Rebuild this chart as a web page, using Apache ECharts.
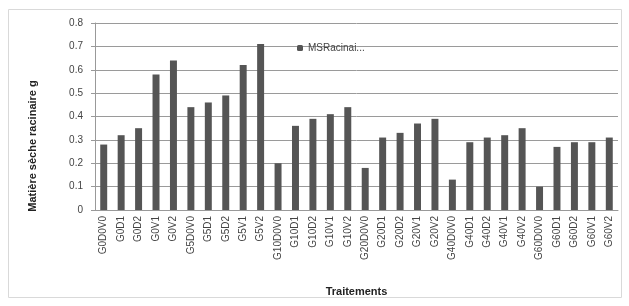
<!DOCTYPE html>
<html>
<head>
<meta charset="utf-8">
<script src="https://cdn.jsdelivr.net/npm/echarts@6/dist/echarts.min.js"></script>
<style>
html, body { margin: 0; padding: 0; background: #fff; }
#chart { width: 629px; height: 306px; }
</style>
</head>
<body>
<div id="chart"></div>
<script>
// données
var traitements = ['G0D0V0', 'G0D1', 'G0D2', 'G0V1', 'G0V2',
	'G5D0V0', 'G5D1', 'G5D2', 'G5V1', 'G5V2',
	'G10D0V0', 'G10D1', 'G10D2', 'G10V1', 'G10V2',
	'G20D0V0', 'G20D1', 'G20D2', 'G20V1', 'G20V2',
	'G40D0V0', 'G40D1', 'G40D2', 'G40V1', 'G40V2',
	'G60D0V0', 'G60D1', 'G60D2', 'G60V1', 'G60V2'];
var msRacinaire = [0.28, 0.32, 0.35, 0.58, 0.64,
	0.44, 0.46, 0.49, 0.62, 0.71,
	0.20, 0.36, 0.39, 0.41, 0.44,
	0.18, 0.31, 0.33, 0.37, 0.39,
	0.13, 0.29, 0.31, 0.32, 0.35,
	0.10, 0.27, 0.29, 0.29, 0.31];
var yTicks = [0, 0.1, 0.2, 0.3, 0.4, 0.5, 0.6, 0.7, 0.8];

var myChart = echarts.init(document.getElementById('chart'));
var option = {
	animation : false,
	textStyle : { fontFamily : 'Liberation Sans, Arial, sans-serif' },
	graphic : [ {
		type : 'rect',
		shape : { x : 8.5, y : 9.5, width : 613, height : 288 },
		style : { fill : 'none', stroke : '#d9d9d9', lineWidth : 1 }
	}, {
		// titre de l'axe Y, un peu plus bas que le centre comme sur l'original
		type : 'text',
		x : 33,
		y : 146,
		rotation : Math.PI / 2,
		style : {
			text : 'Matière sèche racinaire g',
			fill : '#222',
			font : 'bold 11px Liberation Sans, Arial, sans-serif',
			align : 'center',
			verticalAlign : 'middle'
		}
	} ],
	legend : {
		data : [ 'MSRacinai...' ],
		left : 292,
		top : 38,
		itemWidth : 6,
		itemHeight : 6,
		itemGap : 4,
		textStyle : { color : '#444', fontSize : 10 }
	},
	grid : {
		left : 95,
		right : 11,
		top : 23,
		bottom : 96
	},
	xAxis : {
		type : 'category',
		data : traitements,
		name : 'Traitements',
		nameLocation : 'middle',
		nameGap : 76,
		nameTextStyle : { color : '#222', fontWeight : 'bold', fontSize : 11 },
		axisTick : { show : false },
		axisLine : { lineStyle : { color : '#999' } },
		axisLabel : {
			interval : 0,
			rotate : 90,
			color : '#444',
			fontSize : 10,
			margin : 6
		}
	},
	yAxis : {
		type : 'value',
		min : yTicks[0],
		max : yTicks[yTicks.length - 1],
		interval : 0.1,
		axisLine : { show : true, lineStyle : { color : '#999' } },
		axisTick : { show : true, length : 4, lineStyle : { color : '#999' } },
		splitLine : { lineStyle : { color : '#9a9a9a' } },
		axisLabel : {
			color : '#444',
			fontSize : 10,
			margin : 12,
			formatter : function(v) {
				return v === 0 ? '0' : v.toFixed(1);
			}
		}
	},
	series : [ {
		name : 'MSRacinai...',
		type : 'bar',
		barWidth : '40%',
		itemStyle : { color : '#555555' },
		data : msRacinaire
	} ]
};
myChart.setOption(option);
</script>
</body>
</html>
